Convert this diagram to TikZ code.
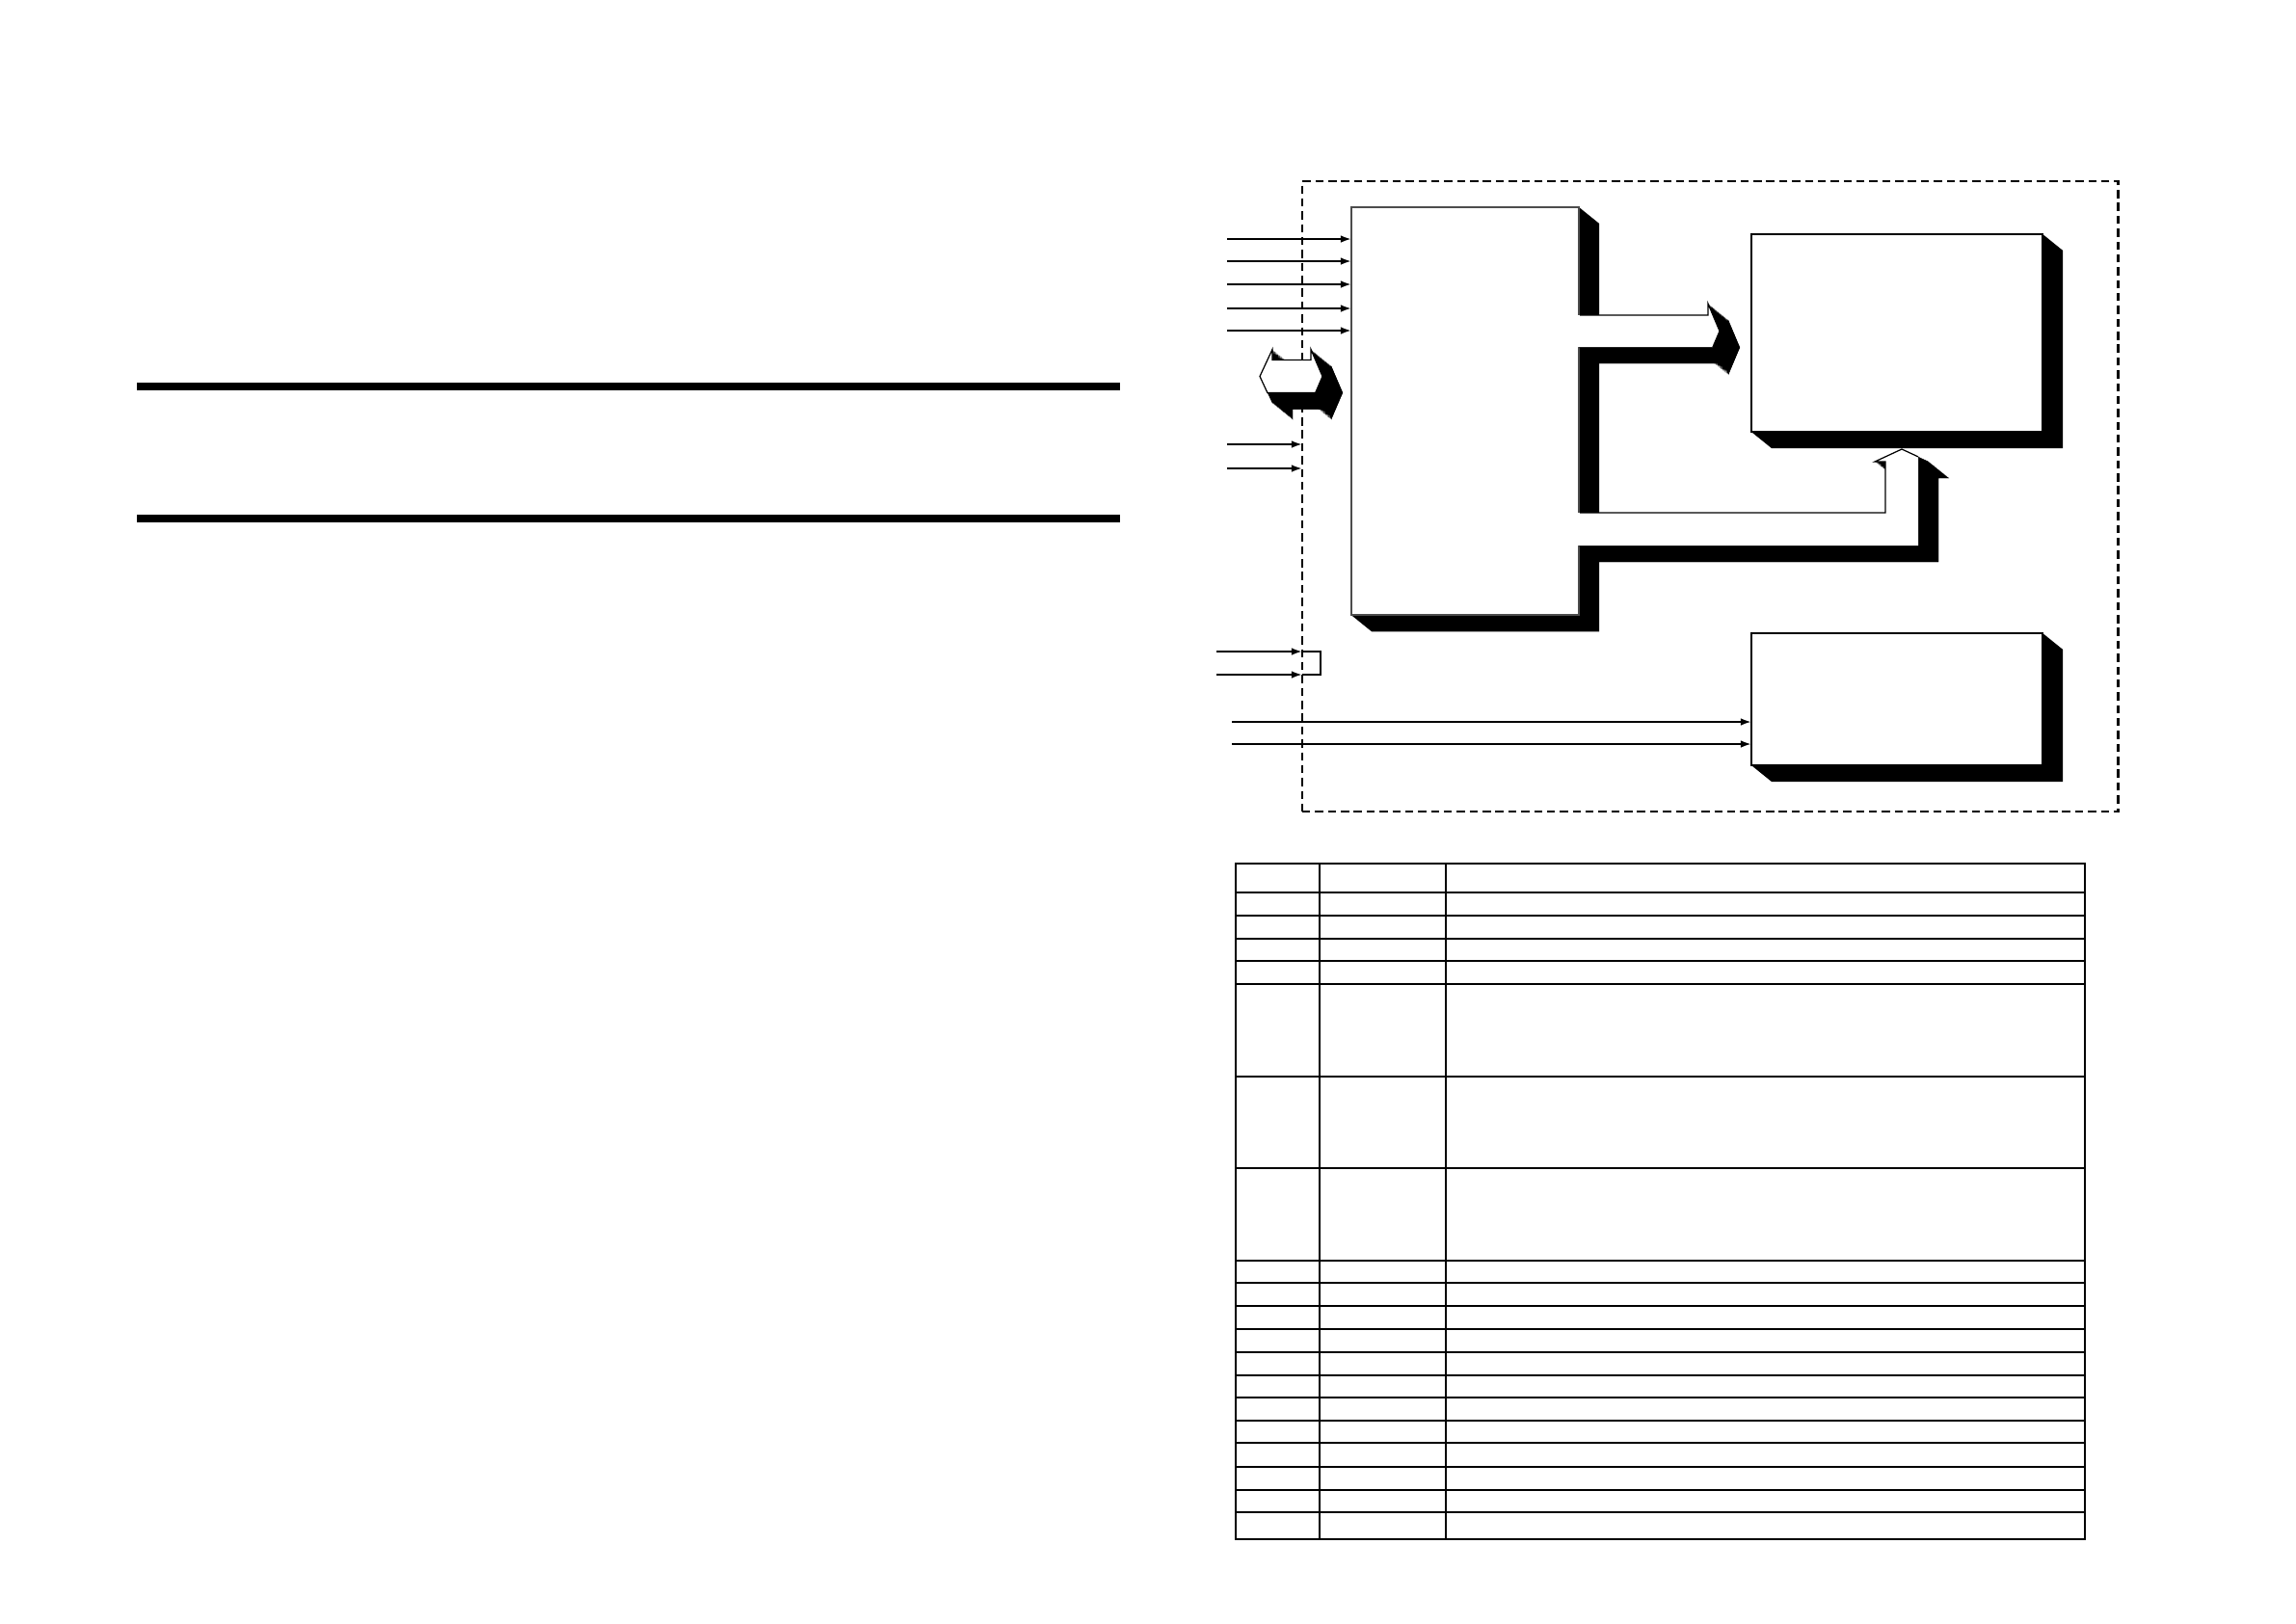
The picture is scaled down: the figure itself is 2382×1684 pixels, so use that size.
\documentclass[tikz,border=0pt]{standalone}
\usetikzlibrary{arrows.meta,calc}
\pgfdeclarelayer{bg}
\pgfsetlayers{bg,main}
\newcommand{\blockarrow}[3]{%
  \foreach \t in {0,0.04,...,1.0} {\fill[black, shift={(21*\t,17*\t)}] #1;}
  \fill[black, shift={(21,17)}] #1;
  \fill[white] #2;
  \draw[blockedge] #3;}
\begin{document}
\begin{tikzpicture}[x=0.01cm,y=-0.01cm,
  devbox/.style={draw=black, fill=white, inner sep=0pt, outer sep=0pt, line width=0.7pt},
  mainbox/.style={devbox, draw=black!70, line width=0.45pt},
  dashframe/.style={draw=black, dash pattern=on 2.4pt off 1.4pt, line width=0.6pt, inner sep=0pt, outer sep=0pt},
  sigarrow/.style={line width=0.6pt, -{Latex[length=3.2pt,width=2.2pt]}},
  plainline/.style={line width=0.6pt},
  blockedge/.style={draw=black, line width=0.35pt, line join=miter},
  tablerule/.style={line width=0.6pt},
  barfill/.style={fill=black}]
\useasboundingbox (0,0) rectangle (2382,1684);

% heavy rules on the left half
\fill[barfill] (142,397) rectangle (1162,405);
\fill[barfill] (142,534) rectangle (1162,542);

% dashed enclosure and boxes
\node[dashframe, anchor=north west, minimum width=8.46cm, minimum height=6.54cm] (frame) at (1351,188) {};
\node[mainbox, anchor=north west, minimum width=2.36cm, minimum height=4.23cm] (main) at (1402,215) {};
\node[devbox, anchor=north west, minimum width=3.02cm, minimum height=2.05cm] (dev1) at (1817,243) {};
\node[devbox, anchor=north west, minimum width=3.02cm, minimum height=1.37cm] (dev2) at (1817,657) {};

\begin{pgfonlayer}{bg}
  \foreach \n in {main,dev1,dev2}
    \fill[black] (\n.north east) -- ++(21,17) -- ($(\n.south east)+(21,17)$)
      -- ($(\n.south west)+(21,17)$) -- (\n.south west) -- cycle;
\end{pgfonlayer}

% signal inputs to the main box
\foreach \y [count=\i] in {248,271,295,320,343} {
  \coordinate (in\i) at (1273,\y);
  \draw[sigarrow] (in\i) -- (in\i -| main.west);
}
% inputs to the enclosure
\foreach \y [count=\i] in {461,486} {
  \coordinate (b\i) at (1273,\y);
  \draw[sigarrow] (b\i) -- (b\i -| frame.west);
}
% bracketed pair
\coordinate (c1) at (1262,676);
\coordinate (c2) at (1262,700);
\coordinate (cj) at (1370,676);
\draw[sigarrow] (c1) -- (c1 -| frame.west);
\draw[sigarrow] (c2) -- (c2 -| frame.west);
\draw[plainline] (c1 -| frame.west) -- (cj) -- (cj |- c2) -- (c2 -| frame.west);
% long inputs to the lower box
\foreach \y [count=\i] in {749,772} {
  \coordinate (d\i) at (1278,\y);
  \draw[sigarrow] (d\i) -- (d\i -| dev2.west);
}

% bidirectional block arrow (bus)
\blockarrow{(1307,390.5) -- (1320,362.5) -- (1320,373.5) -- (1360,373.5) -- (1360,362.5) -- (1372,390.5) -- (1360,418.5) -- (1360,407.5) -- (1320,407.5) -- (1320,418.5) -- cycle}
  {(1307,390.5) -- (1320,362.5) -- (1320,373.5) -- (1360,373.5) -- (1360,362.5) -- (1372,390.5) -- (1364.7,407.5) -- (1314.9,407.5) -- cycle}
  {(1307,390.5) -- (1320,362.5) -- (1320,373.5) -- (1360,373.5) -- (1360,362.5) -- (1372,390.5) -- (1364.7,407.5) -- (1314.9,407.5) -- cycle}

% block arrow main -> upper device
\blockarrow{(1637,327) -- (1772,327) -- (1772,315) -- (1784,343.5) -- (1772,372) -- (1772,360) -- (1637,360) -- cycle}
  {(1637,327) -- (1772,327) -- (1772,315) -- (1784,343.5) -- (1777,360) -- (1637,360) -- cycle}
  {(1639,327) -- (1772,327) -- (1772,315) -- (1784,343.5) -- (1777,360)}

% elbow block arrow main -> upper device bottom
\blockarrow{(1637,532) -- (1956,532) -- (1956,479) -- (1945,479) -- (1973,466) -- (2001,479) -- (1990,479) -- (1990,566) -- (1637,566) -- cycle}
  {(1637,532) -- (1956,532) -- (1956,479) -- (1945,479) -- (1973,466) -- (1990,473.9) -- (1990,566) -- (1637,566) -- cycle}
  {(1639,532) -- (1956,532) -- (1956,479) -- (1945,479) -- (1973,466) -- (1990,473.9)}

% table
\draw[tablerule] (1282,896) rectangle (2163,1597);
\foreach \x in {1369,1500} \draw[tablerule] (\x,896) -- (\x,1597);
\foreach \y in {926,950,974,997,1021,1117,1212,1308,1331,1355,1379,1403,1427,1450,1474,1497,1522,1546,1569}
  \draw[tablerule] (1282,\y) -- (2163,\y);
\end{tikzpicture}
\end{document}
